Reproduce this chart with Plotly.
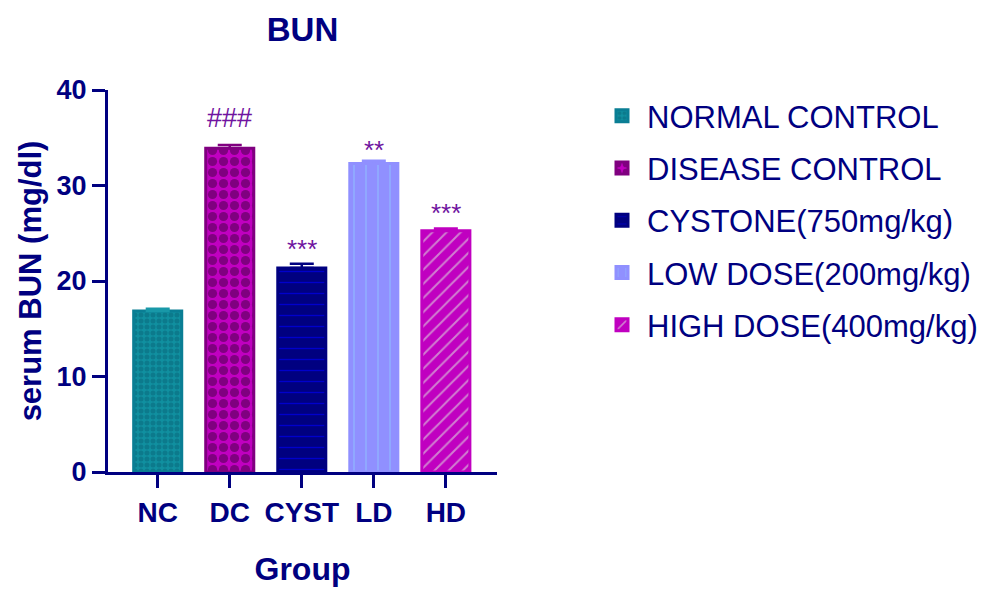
import plotly.graph_objects as go

# Serum BUN by treatment group (mean and SEM)
groups = ["NC", "DC", "CYST", "LD", "HD"]
names = ["NORMAL CONTROL", "DISEASE CONTROL", "CYSTONE(750mg/kg)",
         "LOW DOSE(200mg/kg)", "HIGH DOSE(400mg/kg)"]
means = [16.85, 33.9, 21.35, 32.3, 25.25]
sems = [0.25, 0.35, 0.45, 0.3, 0.25]
marks = ["", "###", "***", "**", "***"]

fills = ["#1090A0", "#C000C0", "#000080", "#9090FF", "#C000C0"]
edges = ["#0A7E94", "#800080", "#000080", "#9090FF", "#C000C0"]
pat_fg = ["#0C7A8C", "#800080", "#0000CC", "#90B8FF", "#D080D0"]
pat_shape = [".", ".", "-", "|", "/"]
pat_size = [6, 11, 11, 12, 10]
pat_solid = [0.55, 0.55, 0.12, 0.1, 0.2]
err_col = ["#1898A8", "#800080", "#000080", "#9090FF", "#C000C0"]

NAVY = "#000080"
FONT = "Liberation Sans, Arial, sans-serif"

fig = go.Figure()
for i, g in enumerate(groups):
    fig.add_trace(go.Bar(
        x=[g], y=[means[i]], name=names[i], width=0.667,
        legendgroup=g,
        marker=dict(
            color=fills[i],
            line=dict(color=edges[i], width=3),
            pattern=dict(shape=pat_shape[i], fgcolor=pat_fg[i], bgcolor=fills[i],
                         size=pat_size[i], solidity=pat_solid[i], fillmode="replace"),
        ),
        error_y=dict(type="data", array=[sems[i]], arrayminus=[0], symmetric=False,
                     color=err_col[i], thickness=2.5, width=12),
    ))

# significance markers above the error bars
shifts = {"###": 27, "***": 15, "**": 11}
for g, txt, m, s in zip(groups, marks, means, sems):
    if txt:
        fig.add_annotation(x=g, y=m + s, text=txt, showarrow=False,
                           yanchor="middle", yshift=shifts[txt],
                           font=dict(family=FONT, size=27 if txt == "###" else 26,
                                     color="#7014A0"))

fig.update_layout(
    width=986, height=589,
    margin=dict(l=108, r=489, t=90, b=117, autoexpand=False),
    plot_bgcolor="white", paper_bgcolor="white",
    barmode="overlay",
    title=dict(text="<b>BUN</b>", x=(108 + 497) / 2 / 986, xanchor="center",
               y=1 - 29 / 589, yanchor="middle",
               font=dict(family=FONT, size=33, color=NAVY)),
    font=dict(family=FONT, color=NAVY),
    legend=dict(xref="container", yref="container",
                x=597 / 986, xanchor="left", y=1 - 89 / 589, yanchor="top",
                font=dict(family=FONT, size=31, color=NAVY),
                tracegroupgap=9, itemwidth=40, bgcolor="rgba(0,0,0,0)"),
    showlegend=True,
)
fig.update_xaxes(
    range=[-0.69, 4.71], showline=True, linecolor=NAVY, linewidth=3,
    ticks="outside", ticklen=13, tickwidth=3, tickcolor=NAVY,
    tickfont=dict(family=FONT, size=28, color=NAVY), automargin=False,
    title=dict(text="<b>Group</b>", font=dict(family=FONT, size=32, color=NAVY), standoff=32),
    showgrid=False, zeroline=False, tickprefix="<b>", ticksuffix="</b>",
)
fig.update_yaxes(
    range=[0, 40], dtick=10, showline=True, linecolor=NAVY, linewidth=3,
    ticks="outside", ticklen=13, tickwidth=3, tickcolor=NAVY,
    tickfont=dict(family=FONT, size=27, color=NAVY), automargin=False,
    title=dict(text="<b>serum BUN (mg/dl)</b>", font=dict(family=FONT, size=31, color=NAVY), standoff=6),
    showgrid=False, zeroline=False, tickprefix="<b>", ticksuffix="</b>",
)

fig.write_html("out.html")
